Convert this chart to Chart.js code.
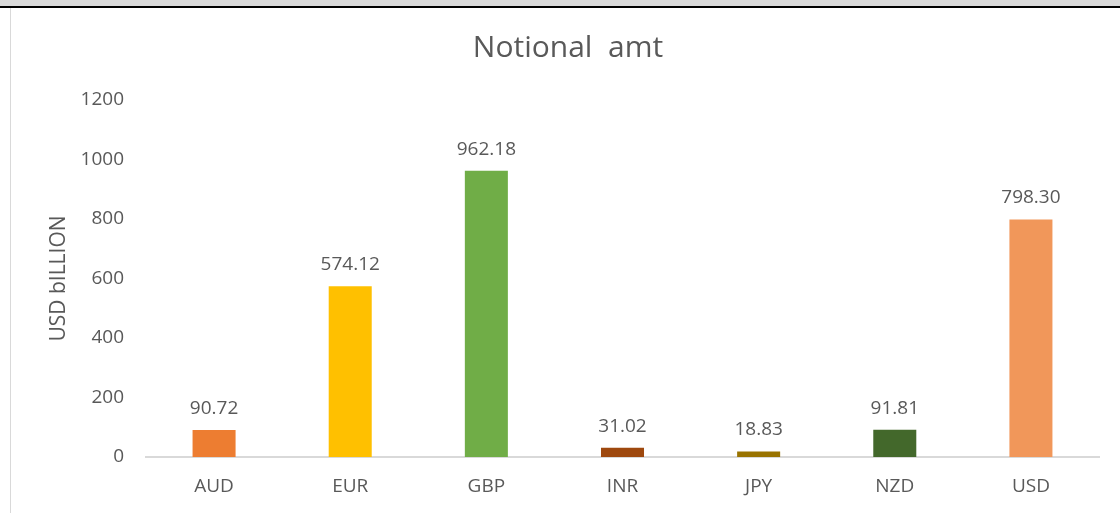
<!DOCTYPE html>
<html>
<head>
<meta charset="utf-8">
<script src="https://cdn.jsdelivr.net/npm/chart.js@4.4.0/dist/chart.umd.min.js"></script>
<style>
    html, body { margin: 0; padding: 0; background: #fff; overflow: hidden; }
    #wrap { position: absolute; left: 0; top: 0; width: 1120px; height: 513px; }
    .topBand { position: absolute; left: 0; top: 0; width: 1120px; height: 6px; background: #d9d9d9; border-bottom: 2px solid #000; }
    .leftEdge { position: absolute; left: 10px; top: 8px; width: 1px; height: 505px; background: #d9d9d9; }
</style>
</head>
<body>
<div id="wrap">
    <canvas id="notionalChart" width="1120" height="513"></canvas>
</div>
<div class="topBand"></div>
<div class="leftEdge"></div>
<script>
const currencies = ['AUD', 'EUR', 'GBP', 'INR', 'JPY', 'NZD', 'USD'];
const notionalValues = [90.72, 574.12, 962.18, 31.02, 18.83, 91.81, 798.30];
const barColors = ['#ED7D31', '#FFC000', '#70AD47', '#9E480E', '#997300', '#43682B', '#F1975A'];
const yTicks = [0, 200, 400, 600, 800, 1000, 1200];

const textColor = '#595959';
const fontFamily = "'Open Sans', 'Noto Sans', sans-serif";

// labels on top of each bar
const valueLabels = {
    id: 'valueLabels',
    afterDatasetsDraw(chart) {
        const ctx = chart.ctx;
        const meta = chart.getDatasetMeta(0);
        ctx.save();
        ctx.font = '19px ' + fontFamily;
        ctx.fillStyle = textColor;
        ctx.textAlign = 'center';
        ctx.textBaseline = 'bottom';
        meta.data.forEach((bar, i) => {
            ctx.fillText(notionalValues[i].toFixed(2), bar.x, bar.y - 12);
        });
        ctx.restore();
    }
};

document.addEventListener('DOMContentLoaded', function() {
    const ctx = document.getElementById('notionalChart');

    new Chart(ctx, {
        type: 'bar',
        data: {
            labels: currencies,
            datasets: [{
                data: notionalValues,
                backgroundColor: barColors,
                borderWidth: 0,
                categoryPercentage: 1,
                barPercentage: 0.316
            }]
        },
        options: {
            responsive: false,
            animation: false,
            layout: { padding: { top: 0, right: 21, bottom: 0, left: 37 } },
            plugins: {
                legend: { display: false },
                tooltip: { enabled: false },
                title: {
                    display: true,
                    text: 'Notional  amt',
                    color: textColor,
                    font: { family: fontFamily, size: 30, weight: 'normal', lineHeight: 1.2 },
                    padding: { top: 30, bottom: 34 }
                }
            },
            scales: {
                x: {
                    grid: { display: false, drawTicks: false },
                    border: { display: true, color: '#d9d9d9', width: 2 },
                    ticks: {
                        color: textColor,
                        padding: 18,
                        font: { family: fontFamily, size: 19 }
                    },
                    afterFit: function(scale) { scale.height = 56; }
                },
                y: {
                    min: 0,
                    max: 1200,
                    grid: { display: false, drawTicks: false },
                    border: { display: false },
                    afterBuildTicks: function(scale) {
                        scale.ticks = yTicks.map(v => ({ value: v }));
                    },
                    ticks: {
                        color: textColor,
                        padding: 22,
                        font: { family: fontFamily, size: 19 },
                        callback: function(value) { return String(value); }
                    },
                    title: {
                        display: true,
                        text: 'USD bILLION',
                        color: textColor,
                        font: { family: fontFamily, size: 21 },
                        padding: { top: 9, bottom: 0 }
                    },
                    afterFit: function(scale) { scale.width = 109; }
                }
            }
        },
        plugins: [valueLabels]
    });
});
</script>
</body>
</html>
